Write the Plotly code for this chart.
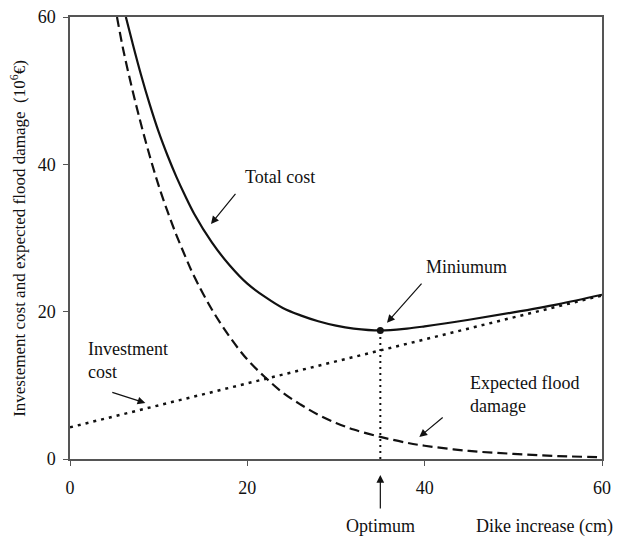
import plotly.graph_objects as go

# ---- data ----
invest_x = [0, 60]
invest_y = [4.3, 22.2]

damage_x = [5.3, 6, 7, 8, 9, 10, 11, 12, 13, 14, 16, 18, 20, 22, 24, 26, 28, 30, 32, 35, 38, 40, 45, 50, 55, 60]
damage_y = [60, 55.6, 50.3, 45.5, 41.1, 37.1, 33.6, 30.4, 27.5, 24.8, 20.3, 16.6, 13.5, 11.1, 9.0, 7.4, 6.0, 4.9, 4.0, 3.0, 2.2, 1.8, 1.1, 0.7, 0.4, 0.25]

total_x = [6.3, 7, 8, 9, 10, 11, 12, 13, 14, 16, 18, 20, 22, 24, 26, 28, 30, 32, 35, 38, 40, 45, 50, 55, 60]
total_y = [60, 56.7, 52.2, 48.1, 44.4, 41.2, 38.3, 35.7, 33.3, 29.4, 26.3, 23.8, 22.0, 20.5, 19.5, 18.7, 18.1, 17.7, 17.45, 17.7, 18.0, 18.9, 19.9, 21.0, 22.3]

optimum_x = [35, 35]
optimum_y = [0, 17.45]

x_ticks = [0, 20, 40, 60]
y_ticks = [0, 20, 40, 60]

FONT = "Liberation Serif"
INK = "#111111"
FS = 18

fig = go.Figure()
fig.add_trace(go.Scatter(x=invest_x, y=invest_y, mode="lines",
                         line=dict(color=INK, width=2.5, dash="3px,5px"), showlegend=False))
fig.add_trace(go.Scatter(x=damage_x, y=damage_y, mode="lines", line_shape="spline",
                         line=dict(color=INK, width=2.2, dash="10px,5px"), showlegend=False))
fig.add_trace(go.Scatter(x=total_x, y=total_y, mode="lines", line_shape="spline",
                         line=dict(color=INK, width=2.2), showlegend=False))
fig.add_trace(go.Scatter(x=optimum_x, y=optimum_y, mode="lines",
                         line=dict(color=INK, width=2, dash="2px,4px"), showlegend=False))
fig.add_trace(go.Scatter(x=[optimum_x[1]], y=[optimum_y[1]], mode="markers",
                         marker=dict(color=INK, size=7), showlegend=False))

def arrow(hx, hy, tx, ty):
    fig.add_annotation(x=hx, y=hy, ax=tx, ay=ty, xref="x", yref="y", axref="x", ayref="y",
                       text="", showarrow=True, arrowhead=2, arrowsize=1.3, arrowwidth=1.2,
                       arrowcolor=INK)

def label(x, y, text, xanchor="center", xref="x", yref="y"):
    fig.add_annotation(x=x, y=y, xref=xref, yref=yref, text=text, showarrow=False,
                       xanchor=xanchor, yanchor="middle", align="left",
                       font=dict(family=FONT, size=FS, color=INK))

label(23.7, 38.3, "Total cost")
arrow(15.9, 31.9, 18.8, 36.2)

label(44.7, 26.1, "Miniumum")
arrow(35.75, 18.5, 39.8, 24.0)

label(1.8, 13.4, "Investment<br>cost", xanchor="left")
arrow(8.5, 7.6, 4.6, 9.1)

label(44.9, 8.7, "Expected flood<br>damage", xanchor="left")
arrow(39.4, 3.0, 42.2, 5.8)

fig.add_annotation(x=35, y=-0.036, xref="x", yref="paper", ax=0, ay=35, axref="pixel", ayref="pixel",
                   text="", showarrow=True, arrowhead=2, arrowsize=1.3, arrowwidth=1.2, arrowcolor=INK)
label(35, -0.152, "Optimum", yref="paper")
label(1.024, -0.152, "Dike increase (cm)", xanchor="right", xref="paper", yref="paper")

fig.add_annotation(x=-0.098, y=0.5, xref="paper", yref="paper", textangle=-90, showarrow=False,
                   xanchor="center", yanchor="middle",
                   text="Investement cost and expected flood damage  (10<sup>6</sup>€)",
                   font=dict(family=FONT, size=17, color=INK))

axis_common = dict(showgrid=False, zeroline=False, showline=True, linecolor="#555555", linewidth=1.5,
                   mirror=True, ticks="outside", ticklen=5, tickcolor="#555555", tickwidth=1.2,
                   automargin=False, tickfont=dict(family=FONT, size=FS, color=INK))
fig.update_xaxes(range=[0, 60], tickvals=x_ticks, ticktext=[str(v) for v in x_ticks],
                 ticklabelstandoff=7, **axis_common)
fig.update_yaxes(range=[0, 60], tickvals=y_ticks, ticktext=[str(v) for v in y_ticks],
                 ticklabelstandoff=4, **axis_common)

fig.update_layout(width=617, height=538, margin=dict(l=70, r=15, t=17, b=79, autoexpand=False),
                  plot_bgcolor="white", paper_bgcolor="white", showlegend=False,
                  font=dict(family=FONT, size=FS, color=INK))

fig.write_html("out.html", config={"displayModeBar": False},
               post_script="document.body.style.margin='0';document.body.style.overflow='hidden';")
